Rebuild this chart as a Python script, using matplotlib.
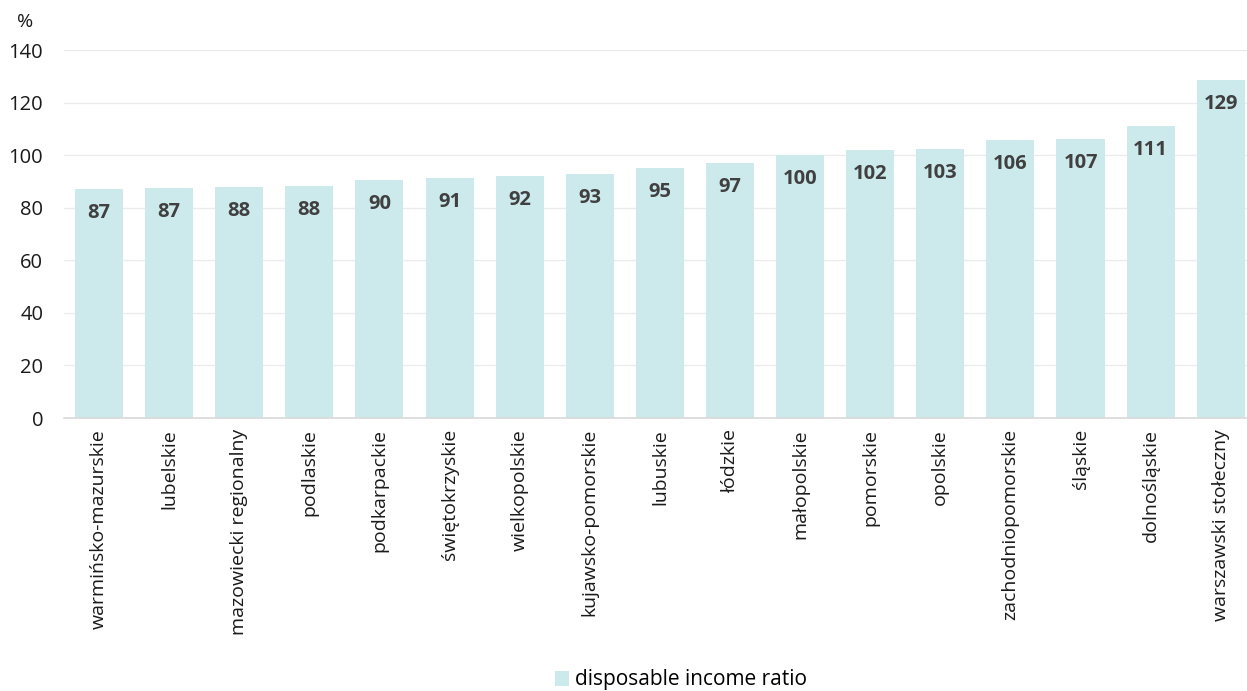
import matplotlib as mpl
mpl.use("agg")
import matplotlib.pyplot as plt
import numpy as np

plt.rcParams['font.family'] = ['Open Sans', 'DejaVu Sans']

# regions and disposable income ratio (%)
regions = ["warmińsko-mazurskie", "lubelskie", "mazowiecki regionalny", "podlaskie",
           "podkarpackie", "świętokrzyskie", "wielkopolskie", "kujawsko-pomorskie",
           "lubuskie", "łódzkie", "małopolskie", "pomorskie", "opolskie",
           "zachodniopomorskie", "śląskie", "dolnośląskie", "warszawski stołeczny"]
values = [87.1, 87.4, 87.9, 88.4, 90.4, 91.3, 92.0, 92.8, 95.1, 97.0,
          100.0, 101.9, 102.3, 105.7, 106.1, 111.1, 128.6]
labels = [87, 87, 88, 88, 90, 91, 92, 93, 95, 97, 100, 102, 103, 106, 107, 111, 129]
yticks = [0, 20, 40, 60, 80, 100, 120, 140]

bar_color = "#cce9ec"

fig = plt.figure(figsize=(12.47, 6.91), dpi=100)
ax = fig.add_axes([64/1247, 1 - 418/691, 1 - 64/1247, (418 - 50)/691])

x = np.arange(len(regions))
ax.bar(x, values, width=0.685, color=bar_color, zorder=2, label="disposable income ratio")

for xi, v, lab in zip(x, values, labels):
    ax.annotate(str(lab), (xi, v), xytext=(0, -24), textcoords="offset pixels",
                ha="center", va="center", fontsize=14.5, fontweight="bold",
                color="#404040", zorder=3)

ax.set_xlim(-0.5, 16.375)
ax.set_ylim(0, 140)
ax.set_yticks(yticks)
ax.grid(axis="y", color="#ebebeb", linewidth=1, zorder=0)
ax.set_axisbelow(True)

for s in ["top", "right", "left"]:
    ax.spines[s].set_visible(False)
ax.spines["bottom"].set_color("#d9d9d9")
ax.spines["bottom"].set_linewidth(1.2)

ax.set_xticks(x)
ax.set_xticklabels(regions, rotation=90, fontsize=14, color="#1a1a1a")
ax.tick_params(axis="x", length=0, pad=8)
ax.tick_params(axis="y", length=0, pad=15, labelsize=14.5, labelcolor="#1a1a1a")

fig.text(17/1247, 1 - 22/691, "%", fontsize=14, color="#1a1a1a", va="center", ha="left")

fig.legend(loc="center", bbox_to_anchor=(681/1247, 1 - 680/691), frameon=False,
           fontsize=15, handlelength=0.7, handleheight=0.7, handletextpad=0.3)

fig.savefig("out.png", dpi=100)
